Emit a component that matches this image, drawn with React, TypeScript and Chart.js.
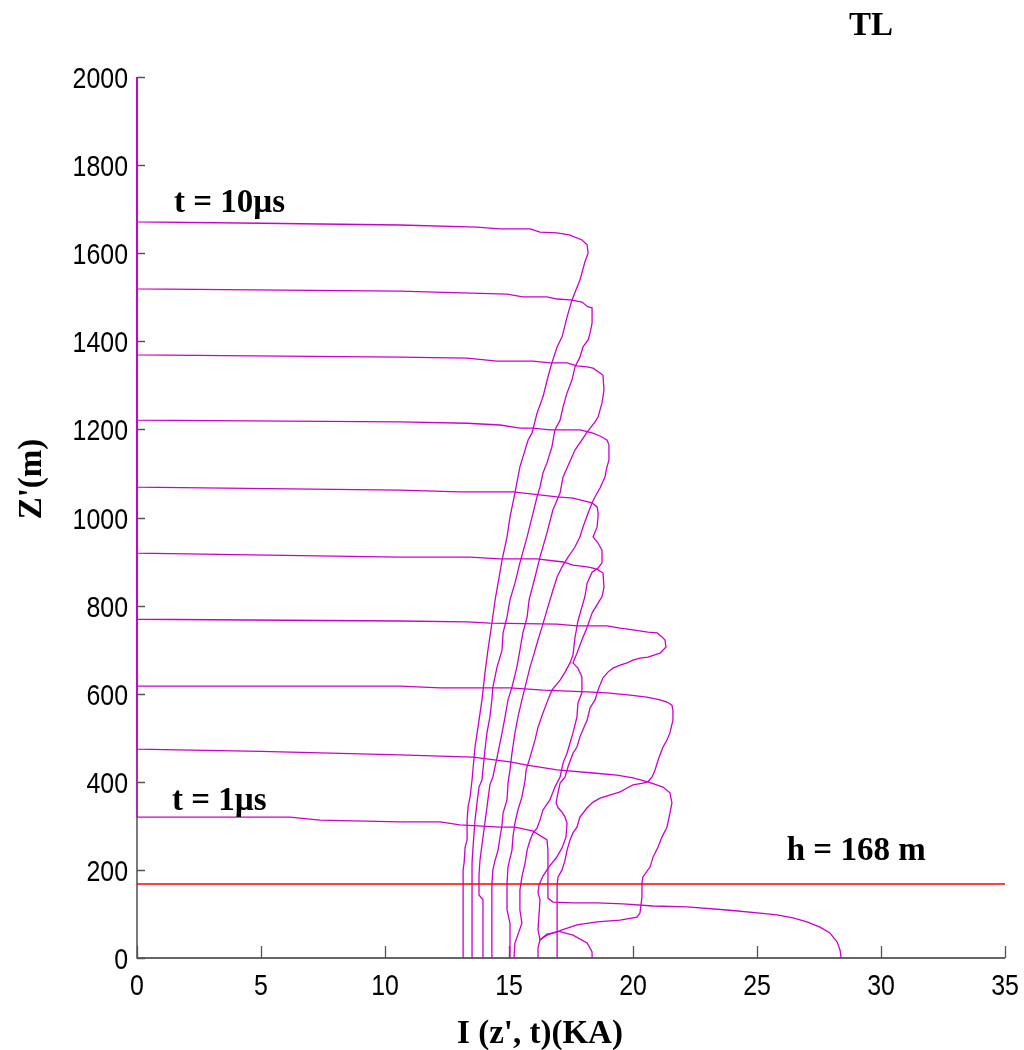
import { useEffect, useRef } from "react";
import { Chart, registerables } from "chart.js";

Chart.register(...registerables);

// ---- data ----
const xTickValues = [0, 5, 10, 15, 20, 25, 30, 35];
const yTickValues = [0, 200, 400, 600, 800, 1000, 1200, 1400, 1600, 1800, 2000];
const towerHeight = 168;
const towerLine: [number, number][] = [[0, towerHeight], [35, towerHeight]];

// I (kA), z' (m) for each time
const curveT1: [number, number][] = [
  [0, 2000], [0, 320], [6.17, 320], [7.38, 313], [10.6, 309], [12.22, 309], [13.02, 302], [14.64, 297],
  [15.24, 297], [15.97, 288], [16.53, 268], [16.57, 245], [16.57, 136], [16.77, 127], [17.58, 125],
  [18.55, 125], [19.6, 123], [20.81, 118], [22.18, 116], [23.79, 109], [25.12, 102], [25.81, 98],
  [26.45, 91], [27.02, 82], [27.54, 70], [27.94, 57], [28.23, 36], [28.35, 18], [28.39, 0],
];
const curveT2: [number, number][] = [
  [0, 2000], [0, 474], [5, 469], [10.6, 461], [13.55, 456], [15.04, 445], [15.73, 438], [16.94, 427],
  [18.39, 420], [19.35, 415], [20.0, 409], [20.6, 400], [21.21, 388], [21.49, 375], [21.57, 352],
  [21.49, 329], [21.37, 297], [21.17, 275], [21.01, 252], [20.81, 229], [20.69, 207], [20.4, 184],
  [20.36, 170], [20.36, 138], [20.28, 102], [20.16, 93], [19.48, 86], [18.55, 82], [17.74, 75],
  [17.14, 64], [16.94, 59], [16.53, 54], [16.25, 41], [16.17, 23], [16.17, 0],
];
const curveT3: [number, number][] = [
  [0, 2000], [0, 617], [10.6, 617], [12.22, 613], [15.04, 613], [16.37, 608], [18.15, 604], [18.95, 602],
  [19.88, 597], [20.56, 592], [21.09, 586], [21.37, 581], [21.57, 574], [21.61, 563], [21.61, 540],
  [21.49, 511], [21.37, 495], [21.21, 479], [21.01, 449], [20.89, 427], [20.77, 411], [20.6, 400],
  [20.4, 397], [20.0, 393], [19.76, 386], [19.48, 377], [19.19, 372], [18.67, 363], [18.39, 354],
  [18.15, 341], [17.86, 320], [17.74, 297], [17.58, 284], [17.46, 268], [17.34, 245], [17.26, 222],
  [17.14, 200], [16.98, 184], [16.94, 166], [16.94, 0],
];
const curveT4: [number, number][] = [
  [0, 2000], [0, 769], [10.6, 765], [13.31, 763], [14.23, 760], [16.94, 758], [17.74, 754], [18.95, 754],
  [19.48, 749], [20.0, 745], [20.6, 740], [20.97, 738], [21.17, 729], [21.29, 722], [21.33, 706],
  [21.09, 692], [20.6, 683], [20.28, 681], [20.0, 676], [19.76, 670], [19.48, 665], [19.19, 658],
  [18.99, 649], [18.79, 636], [18.67, 620], [18.59, 608], [18.47, 586], [18.27, 568], [18.15, 540],
  [17.98, 518], [17.86, 502], [17.74, 479], [17.58, 465], [17.38, 434], [17.26, 411], [17.06, 397],
  [16.94, 365], [16.9, 352], [16.98, 341], [17.14, 331], [17.26, 320], [17.34, 306], [17.3, 275],
  [17.14, 250], [16.9, 227], [16.61, 207], [16.37, 186], [16.21, 166], [16.17, 148], [16.25, 132],
  [16.21, 98], [16.17, 64], [16.25, 41], [16.53, 52], [16.98, 61], [17.58, 52], [18.15, 34],
  [18.35, 14], [18.35, 0],
];
const curveT5: [number, number][] = [
  [0, 2000], [0, 919], [10.6, 910], [13.43, 910], [14.64, 906], [16.13, 906], [17.18, 899], [17.58, 892],
  [18.15, 888], [18.39, 885], [18.59, 881], [18.79, 874], [18.83, 842], [18.75, 820], [18.67, 813],
  [18.35, 783], [18.15, 751], [17.94, 722], [17.74, 692], [17.58, 670], [17.78, 658], [17.94, 638],
  [17.94, 602], [17.78, 579], [17.74, 547], [17.58, 511], [17.46, 488], [17.34, 465], [17.18, 443],
  [17.06, 411], [16.85, 388], [16.65, 359], [16.37, 336], [16.25, 313], [16.13, 295], [15.97, 284],
  [15.85, 268], [15.73, 245], [15.65, 216], [15.52, 184], [15.44, 154], [15.44, 109], [15.52, 79],
  [15.24, 34], [15.2, 0],
];
const curveT6: [number, number][] = [
  [0, 2000], [0, 1069], [10.6, 1062], [13.02, 1058], [15.16, 1058], [16.94, 1047], [17.58, 1044],
  [18.06, 1037], [18.35, 1033], [18.55, 1024], [18.59, 1012], [18.59, 1001], [18.55, 978], [18.39, 956],
  [18.59, 942], [18.75, 926], [18.75, 897], [18.59, 885], [18.35, 876], [18.15, 851], [18.06, 820],
  [17.94, 797], [17.78, 765], [17.66, 727], [17.58, 688], [17.46, 670], [17.26, 649], [17.06, 631],
  [16.73, 608], [16.57, 586], [16.37, 556], [16.17, 524], [16.05, 495], [15.85, 456], [15.69, 427],
  [15.65, 404], [15.52, 365], [15.36, 336], [15.24, 306], [15.16, 275], [15.12, 245], [14.96, 207],
  [14.92, 170], [14.92, 109], [15.04, 79], [15.04, 0],
];
const curveT7: [number, number][] = [
  [0, 2000], [0, 1221], [10.6, 1217], [13.31, 1214], [14.64, 1210], [15.44, 1203], [15.97, 1203],
  [16.65, 1199], [17.86, 1199], [18.35, 1192], [18.67, 1185], [18.95, 1176], [19.03, 1165], [19.03, 1130],
  [18.95, 1115], [18.87, 1092], [18.67, 1067], [18.47, 1047], [18.35, 1033], [18.19, 1010], [17.98, 978],
  [17.86, 956], [17.66, 933], [17.38, 910], [17.14, 888], [16.94, 865], [16.77, 835], [16.57, 797],
  [16.33, 751], [16.17, 722], [15.97, 683], [15.85, 661], [15.65, 615], [15.52, 586], [15.36, 547],
  [15.24, 511], [15.12, 465], [15.04, 427], [14.96, 397], [14.92, 359], [14.76, 329], [14.72, 302],
  [14.64, 275], [14.56, 245], [14.44, 222], [14.35, 200], [14.31, 166], [14.31, 0],
];
const curveT8: [number, number][] = [
  [0, 2000], [0, 1369], [10.6, 1364], [13.31, 1362], [14.52, 1355], [15.97, 1355], [16.65, 1351],
  [17.34, 1351], [17.74, 1344], [18.15, 1342], [18.39, 1339], [18.67, 1328], [18.79, 1323], [18.83, 1289],
  [18.75, 1260], [18.59, 1228], [18.47, 1217], [18.15, 1194], [17.66, 1153], [17.18, 1092], [17.06, 1056],
  [16.77, 1017], [16.53, 965], [16.25, 910], [16.05, 865], [15.81, 813], [15.73, 774], [15.56, 738],
  [15.44, 699], [15.32, 661], [15.12, 615], [14.96, 586], [14.84, 547], [14.72, 511], [14.52, 456],
  [14.35, 411], [14.23, 393], [14.15, 359], [14.07, 325], [13.99, 291], [13.91, 257], [13.83, 222],
  [13.79, 188], [13.79, 143], [13.95, 132], [13.95, 0],
];
const curveT9: [number, number][] = [
  [0, 2000], [0, 1519], [10.6, 1514], [14.92, 1507], [15.56, 1501], [16.53, 1501], [16.94, 1496],
  [17.46, 1494], [17.94, 1489], [18.19, 1478], [18.35, 1476], [18.35, 1441], [18.27, 1419], [18.19, 1403],
  [17.98, 1387], [17.86, 1364], [17.66, 1342], [17.54, 1312], [17.34, 1283], [17.18, 1251], [17.06, 1221],
  [16.85, 1199], [16.73, 1160], [16.53, 1124], [16.37, 1101], [16.25, 1069], [16.13, 1047], [15.97, 1010],
  [15.73, 956], [15.44, 897], [15.24, 851], [15.04, 813], [14.92, 774], [14.76, 738], [14.72, 699],
  [14.52, 661], [14.35, 615], [14.31, 586], [14.23, 547], [14.11, 511], [14.03, 472], [13.91, 404],
  [13.79, 388], [13.71, 352], [13.63, 313], [13.55, 252], [13.51, 216], [13.51, 0],
];
const curveT10: [number, number][] = [
  [0, 2000], [0, 1671], [5, 1668], [10.6, 1664], [13.71, 1659], [14.64, 1655], [15.85, 1655],
  [16.25, 1648], [16.94, 1646], [17.46, 1641], [17.94, 1630], [18.15, 1619], [18.19, 1600], [18.06, 1580],
  [17.86, 1539], [17.54, 1494], [17.34, 1455], [17.14, 1410], [16.94, 1387], [16.73, 1351], [16.57, 1319],
  [16.37, 1274], [16.13, 1237], [15.93, 1192], [15.77, 1176], [15.44, 1115], [15.24, 1056], [15.04, 1001],
  [14.92, 956], [14.72, 903], [14.56, 851], [14.44, 813], [14.31, 760], [14.15, 699], [14.03, 647],
  [13.91, 586], [13.75, 524], [13.63, 479], [13.51, 404], [13.43, 365], [13.35, 343], [13.31, 313],
  [13.31, 268], [13.23, 252], [13.19, 216], [13.15, 200], [13.15, 0],
];
const curves = [curveT1, curveT2, curveT3, curveT4, curveT5, curveT6, curveT7, curveT8, curveT9, curveT10];

const xAxisTitle = "I (z', t)(KA)";
const yAxisTitle = "Z'(m)";
const cornerTitle = "TL";
const labelLate = { text: "t = 10\u00b5s", x: 1.49, y: 1694 };
const labelEarly = { text: "t = 1\u00b5s", x: 1.41, y: 336 };
const labelTower = { text: "h = 168 m", x: 26.2, y: 222 };

const MAGENTA = "rgb(204,0,204)";
const BOLD_SERIF = 'bold 33px "Liberation Serif", "Times New Roman", serif';
const TICK_FONT = '30px "Liberation Sans", Arial, sans-serif';

const decorPlugin = {
  id: "decor",
  beforeDatasetsDraw(chart: any) {
    const { ctx, chartArea } = chart;
    const xs = chart.scales.x;
    const ys = chart.scales.y;
    ctx.save();
    // axes
    ctx.strokeStyle = "#333";
    ctx.lineWidth = 1.3;
    ctx.beginPath();
    ctx.moveTo(chartArea.left, chartArea.top);
    ctx.lineTo(chartArea.left, chartArea.bottom);
    ctx.lineTo(chartArea.right, chartArea.bottom);
    ctx.stroke();
    // ticks
    ctx.strokeStyle = "#555";
    ctx.lineWidth = 1.3;
    ctx.beginPath();
    for (const v of xTickValues) {
      const px = Math.round(xs.getPixelForValue(v)) + 0.5;
      ctx.moveTo(px, chartArea.bottom);
      ctx.lineTo(px, chartArea.bottom - 12);
    }
    for (const v of yTickValues) {
      const py = Math.round(ys.getPixelForValue(v)) + 0.5;
      ctx.moveTo(chartArea.left, py);
      ctx.lineTo(chartArea.left + 8, py);
    }
    ctx.stroke();
    // tick labels
    ctx.fillStyle = "#000";
    ctx.font = TICK_FONT;
    ctx.textBaseline = "alphabetic";
    for (const v of yTickValues) {
      const py = ys.getPixelForValue(v);
      ctx.save();
      ctx.translate(chartArea.left - 9, py + 11);
      ctx.scale(0.83, 1);
      ctx.textAlign = "right";
      ctx.fillText(String(v), 0, 0);
      ctx.restore();
    }
    for (const v of xTickValues) {
      const px = xs.getPixelForValue(v);
      ctx.save();
      ctx.translate(px, chartArea.bottom + 37);
      ctx.scale(0.83, 1);
      ctx.textAlign = "center";
      ctx.fillText(String(v), 0, 0);
      ctx.restore();
    }
    ctx.restore();
  },
  afterDraw(chart: any) {
    const { ctx, chartArea } = chart;
    const xs = chart.scales.x;
    const ys = chart.scales.y;
    ctx.save();
    ctx.fillStyle = "#000";
    ctx.font = BOLD_SERIF;
    ctx.textBaseline = "alphabetic";
    ctx.textAlign = "left";
    for (const l of [labelLate, labelEarly, labelTower]) {
      ctx.fillText(l.text, xs.getPixelForValue(l.x), ys.getPixelForValue(l.y));
    }
    ctx.textAlign = "center";
    ctx.fillText(cornerTitle, chartArea.left + 734, 35);
    ctx.fillText(xAxisTitle, chartArea.left + 403, chartArea.bottom + 85);
    ctx.save();
    ctx.translate(41, chartArea.top + 402);
    ctx.rotate(-Math.PI / 2);
    ctx.fillText(yAxisTitle, 0, 0);
    ctx.restore();
    ctx.restore();
  },
};

export default function App() {
  const ref = useRef<HTMLCanvasElement | null>(null);
  useEffect(() => {
    document.body.style.margin = "0";
    const canvas = ref.current;
    if (!canvas) return;
    const datasets: any[] = [
      {
        data: towerLine.map(([x, y]) => ({ x, y })),
        borderColor: "rgb(255,0,0)",
        borderWidth: 1.3,
      },
      ...curves.map((c) => ({
        data: c.map(([x, y]) => ({ x, y })),
        borderColor: MAGENTA,
        borderWidth: 1.3,
      })),
    ].map((d) => ({ ...d, showLine: true, pointRadius: 0, fill: false, tension: 0, clip: false }));
    const chart = new Chart(canvas, {
      type: "scatter",
      data: { datasets },
      options: {
        responsive: false,
        animation: false,
        devicePixelRatio: 1,
        layout: { padding: { left: 137, right: 19, top: 77, bottom: 92 } },
        plugins: { legend: { display: false }, tooltip: { enabled: false } },
        scales: {
          x: { type: "linear", min: 0, max: 35, display: false },
          y: { type: "linear", min: 0, max: 2000, display: false },
        },
      },
      plugins: [decorPlugin],
    });
    return () => chart.destroy();
  }, []);
  return (
    <div style={{ width: 1024, height: 1050, background: "#fff" }}>
      <canvas ref={ref} width={1024} height={1050} />
    </div>
  );
}
